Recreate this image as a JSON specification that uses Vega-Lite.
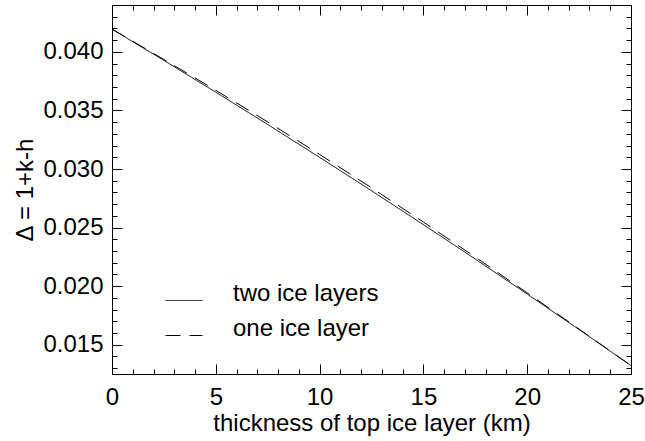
{
  "$schema": "https://vega.github.io/schema/vega-lite/v6.json",
  "autosize": {"type": "none"},
  "padding": {"left": 112, "top": 5, "right": 14, "bottom": 67},
  "width": 519,
  "height": 369,
  "background": "white",
  "config": {
    "view": {"stroke": "black", "strokeWidth": 1},
    "font": "Liberation Sans",
    "axis": {"labelFont": "Liberation Sans", "titleFont": "Liberation Sans", "labelColor": "black", "titleColor": "black", "tickColor": "black", "tickWidth": 1, "titleFontWeight": "normal", "grid": false, "domain": false, "labelOverlap": false, "labelFlush": false},
    "legend": {"labelFont": "Liberation Sans"}
  },
  "data": {
    "values": [
      {"km": 0, "delta": 0.04194, "series": "two ice layers"},
      {"km": 2.5, "delta": 0.03927, "series": "two ice layers"},
      {"km": 5, "delta": 0.036555, "series": "two ice layers"},
      {"km": 7.5, "delta": 0.0338, "series": "two ice layers"},
      {"km": 10, "delta": 0.030995, "series": "two ice layers"},
      {"km": 12.5, "delta": 0.028145, "series": "two ice layers"},
      {"km": 15, "delta": 0.02525, "series": "two ice layers"},
      {"km": 17.5, "delta": 0.02231, "series": "two ice layers"},
      {"km": 20, "delta": 0.019325, "series": "two ice layers"},
      {"km": 22.5, "delta": 0.016295, "series": "two ice layers"},
      {"km": 25, "delta": 0.01322, "series": "two ice layers"},
      {"km": 0, "delta": 0.04194, "series": "one ice layer"},
      {"km": 2.5, "delta": 0.03935, "series": "one ice layer"},
      {"km": 5, "delta": 0.036715, "series": "one ice layer"},
      {"km": 7.5, "delta": 0.03402, "series": "one ice layer"},
      {"km": 10, "delta": 0.031245, "series": "one ice layer"},
      {"km": 12.5, "delta": 0.028395, "series": "one ice layer"},
      {"km": 15, "delta": 0.02547, "series": "one ice layer"},
      {"km": 17.5, "delta": 0.02248, "series": "one ice layer"},
      {"km": 20, "delta": 0.019425, "series": "one ice layer"},
      {"km": 22.5, "delta": 0.016335, "series": "one ice layer"},
      {"km": 25, "delta": 0.01322, "series": "one ice layer"}
    ]
  },
  "resolve": {"axis": {"x": "independent", "y": "independent"}},
  "layer": [
    {
      "transform": [{"filter": "datum.series === 'two ice layers'"}],
      "mark": {"type": "line", "stroke": "black", "strokeWidth": 1},
      "encoding": {
        "x": {"field": "km", "type": "quantitative", "scale": {"domain": [0, 25], "nice": false, "zero": false},
          "axis": {"orient": "bottom", "values": [0,1,2,3,4,5,6,7,8,9,10,11,12,13,14,15,16,17,18,19,20,21,22,23,24,25],
            "labelExpr": "datum.value % 5 === 0 ? format(datum.value, 'd') : ''",
            "tickSize": {"condition": {"test": "datum.value % 5 === 0", "value": -10}, "value": -5},
            "labelPadding": 21, "labelFontSize": 24, "title": "thickness of top ice layer (km)", "titleFontSize": 24, "titlePadding": -3}},
        "y": {"field": "delta", "type": "quantitative", "scale": {"domain": [0.0125, 0.044], "nice": false, "zero": false},
          "axis": {"orient": "left", "values": [0.013,0.014,0.015,0.016,0.017,0.018,0.019,0.02,0.021,0.022,0.023,0.024,0.025,0.026,0.027,0.028,0.029,0.03,0.031,0.032,0.033,0.034,0.035,0.036,0.037,0.038,0.039,0.04,0.041,0.042,0.043,0.044],
            "labelExpr": "round(datum.value * 1000) % 5 === 0 ? format(datum.value, '.3f') : ''",
            "tickSize": {"condition": {"test": "round(datum.value * 1000) % 5 === 0", "value": -10}, "value": -5},
            "labelPadding": 19, "labelFontSize": 24, "title": "Δ = 1+k-h", "titleFontSize": 24, "titlePadding": 5}},
        "strokeDash": {"field": "series", "type": "nominal",
          "scale": {"domain": ["two ice layers", "one ice layer"], "range": [[1, 0], [15, 9]]},
          "legend": {"orient": "none", "legendX": 53, "legendY": 276.5, "title": null, "padding": 0, "symbolType": "stroke", "symbolSize": 1369, "symbolStrokeColor": "black", "symbolStrokeWidth": 1, "symbolOpacity": 1, "labelFontSize": 24, "labelColor": "black", "labelBaseline": "alphabetic", "labelOffset": 30, "rowPadding": 11}}
      }
    },
    {
      "transform": [{"filter": "datum.series === 'one ice layer'"}],
      "mark": {"type": "line", "stroke": "black", "strokeWidth": 1},
      "encoding": {
        "x": {"field": "km", "type": "quantitative",
          "axis": {"orient": "top", "values": [0,1,2,3,4,5,6,7,8,9,10,11,12,13,14,15,16,17,18,19,20,21,22,23,24,25],
            "labels": false, "title": null,
            "tickSize": {"condition": {"test": "datum.value % 5 === 0", "value": -10}, "value": -5}}},
        "y": {"field": "delta", "type": "quantitative",
          "axis": {"orient": "right", "values": [0.013,0.014,0.015,0.016,0.017,0.018,0.019,0.02,0.021,0.022,0.023,0.024,0.025,0.026,0.027,0.028,0.029,0.03,0.031,0.032,0.033,0.034,0.035,0.036,0.037,0.038,0.039,0.04,0.041,0.042,0.043,0.044],
            "labels": false, "title": null,
            "tickSize": {"condition": {"test": "round(datum.value * 1000) % 5 === 0", "value": -10}, "value": -5}}},
        "strokeDash": {"field": "series", "type": "nominal"}
      }
    }
  ]
}
